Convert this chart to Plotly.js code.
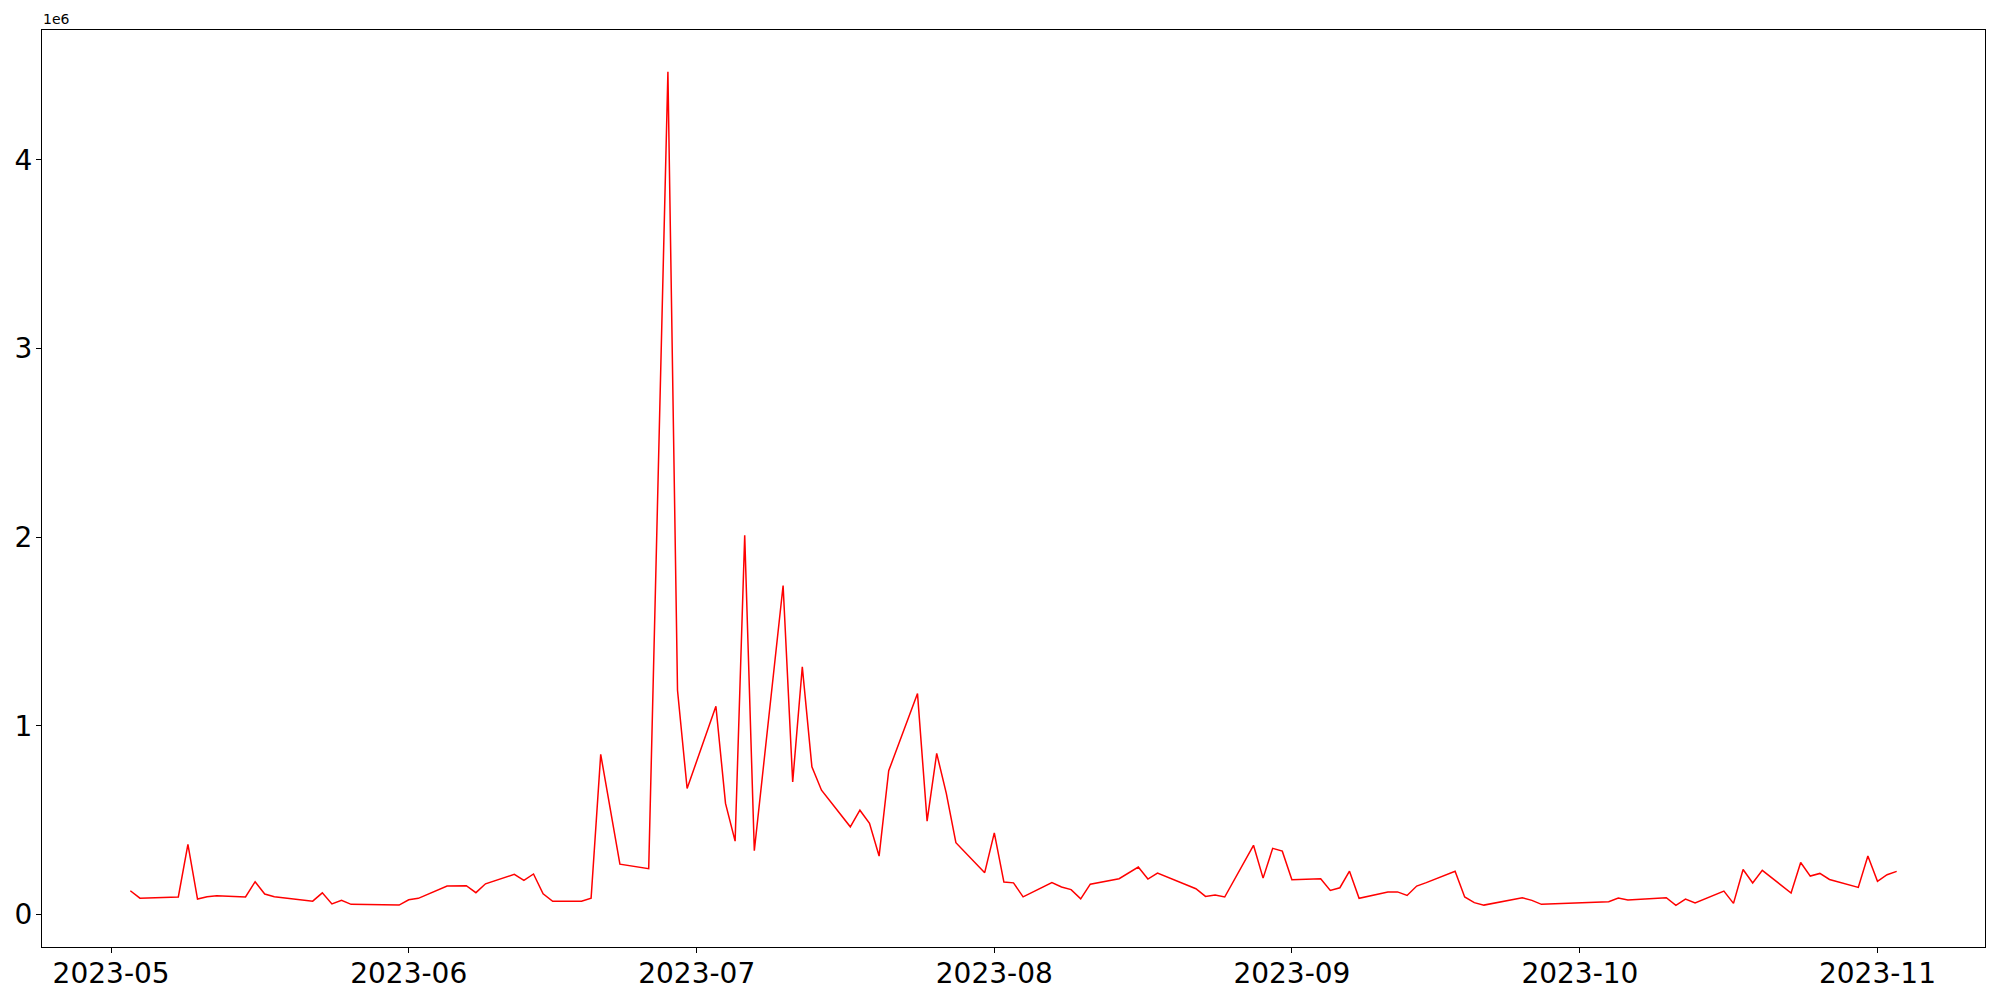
<!DOCTYPE html>
<html>
<head>
<meta charset="utf-8">
<script src="https://cdn.plot.ly/plotly-3.0.1.min.js"></script>
<style>html,body{margin:0;padding:0;background:#fff;}#chart{width:2000px;height:1000px;}</style>
</head>
<body>
<div id="chart"></div>
<script>
const dates = [
  "2023-05-03","2023-05-04","2023-05-08","2023-05-09","2023-05-10","2023-05-11","2023-05-12",
  "2023-05-15","2023-05-16","2023-05-17","2023-05-18","2023-05-22","2023-05-23","2023-05-24",
  "2023-05-25","2023-05-26","2023-05-31","2023-06-01","2023-06-02","2023-06-05","2023-06-07",
  "2023-06-08","2023-06-09","2023-06-12","2023-06-13","2023-06-14","2023-06-15","2023-06-16",
  "2023-06-19","2023-06-20","2023-06-21","2023-06-23","2023-06-26","2023-06-28","2023-06-29",
  "2023-06-30","2023-07-03","2023-07-04","2023-07-05","2023-07-06","2023-07-07","2023-07-10",
  "2023-07-11","2023-07-12","2023-07-13","2023-07-14","2023-07-17","2023-07-18","2023-07-19",
  "2023-07-20","2023-07-21","2023-07-24","2023-07-25","2023-07-26","2023-07-27","2023-07-28",
  "2023-07-31","2023-08-01","2023-08-02","2023-08-03","2023-08-04","2023-08-07","2023-08-08",
  "2023-08-09","2023-08-10","2023-08-11","2023-08-14","2023-08-16","2023-08-17","2023-08-18",
  "2023-08-22","2023-08-23","2023-08-24","2023-08-25","2023-08-28","2023-08-29","2023-08-30",
  "2023-08-31","2023-09-01","2023-09-04","2023-09-05","2023-09-06","2023-09-07","2023-09-08",
  "2023-09-11","2023-09-12","2023-09-13","2023-09-14","2023-09-15","2023-09-18","2023-09-19",
  "2023-09-20","2023-09-21","2023-09-25","2023-09-26","2023-09-27","2023-10-04","2023-10-05",
  "2023-10-06","2023-10-10","2023-10-11","2023-10-12","2023-10-13","2023-10-16","2023-10-17",
  "2023-10-18","2023-10-19","2023-10-20","2023-10-23","2023-10-24","2023-10-25","2023-10-26",
  "2023-10-27","2023-10-30","2023-10-31","2023-11-01","2023-11-02","2023-11-03"
];
const values = [
  126000, 87000, 93000, 372000, 82000, 94000, 100000,
  93000, 174000, 109000, 94000, 71000, 115000, 56000,
  75000, 54000, 50000, 78000, 86000, 151000, 153000,
  116000, 163000, 213000, 181000, 215000, 110000, 70000,
  71000, 87000, 849000, 267000, 243000, 4467000, 1189000,
  668000, 1104000, 589000, 389000, 2010000, 338000, 1744000,
  703000, 1313000, 783000, 659000, 465000, 553000, 483000,
  310000, 762000, 1171000, 495000, 854000, 642000, 381000,
  222000, 433000, 172000, 168000, 94000, 170000, 146000,
  132000, 83000, 161000, 190000, 252000, 188000, 220000,
  137000, 96000, 103000, 93000, 367000, 193000, 351000,
  336000, 184000, 190000, 128000, 142000, 230000, 86000,
  119000, 120000, 101000, 151000, 169000, 229000, 93000,
  63000, 50000, 89000, 75000, 54000, 68000, 87000,
  77000, 89000, 49000, 82000, 61000, 124000, 59000,
  239000, 167000, 234000, 114000, 276000, 204000, 218000,
  186000, 144000, 310000, 176000, 211000, 229000
];
const xTickVals = ["2023-05-01","2023-06-01","2023-07-01","2023-08-01","2023-09-01","2023-10-01","2023-11-01"];
const xTickText = ["2023-05","2023-06","2023-07","2023-08","2023-09","2023-10","2023-11"];
const yTickVals = [0, 1000000, 2000000, 3000000, 4000000];
const yTickText = ["0","1","2","3","4"];

const trace = {
  x: dates, y: values, type: "scatter", mode: "lines",
  line: {color: "#ff0000", width: 1.5}, hoverinfo: "x+y"
};
const font = {family: "DejaVu Sans, sans-serif", size: 28, color: "#000"};
const layout = {
  width: 2000, height: 1000,
  margin: {l: 42, r: 15, t: 30, b: 53, pad: 0},
  paper_bgcolor: "#fff", plot_bgcolor: "#fff",
  showlegend: false,
  font: font,
  xaxis: {
    type: "date",
    range: ["2023-04-23 19:12", "2023-11-12 04:48"],
    tickmode: "array", tickvals: xTickVals, ticktext: xTickText,
    ticks: "outside", ticklen: 5, tickwidth: 1, tickcolor: "#000",
    ticklabelstandoff: -4,
    showgrid: false, zeroline: false,
    showline: true, linecolor: "#000", linewidth: 1, mirror: true,
    tickfont: font
  },
  yaxis: {
    range: [-172000, 4688000],
    tickmode: "array", tickvals: yTickVals, ticktext: yTickText,
    ticks: "outside", ticklen: 5, tickwidth: 1, tickcolor: "#000",
    ticklabelstandoff: -2,
    showgrid: false, zeroline: false,
    showline: true, linecolor: "#000", linewidth: 1, mirror: true,
    tickfont: font
  },
  annotations: [{
    text: "1e6", xref: "paper", yref: "paper", x: 0, y: 1,
    xanchor: "left", yanchor: "bottom", showarrow: false, yshift: 1, xshift: -1,
    font: {family: "DejaVu Sans, sans-serif", size: 14, color: "#000"}
  }]
};
Plotly.newPlot("chart", [trace], layout, {displayModeBar: false, staticPlot: true});
</script>
</body>
</html>
